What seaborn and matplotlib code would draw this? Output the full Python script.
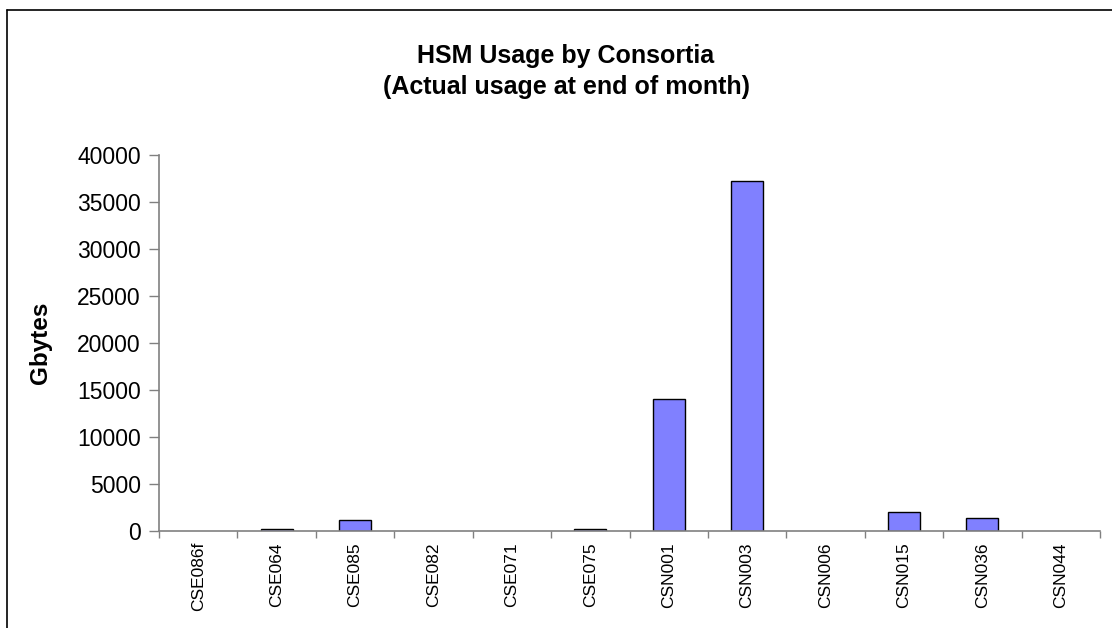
import pandas as pd
import matplotlib
matplotlib.use("Agg")
import matplotlib.pyplot as plt
from matplotlib.lines import Line2D
from matplotlib.ticker import FixedLocator, NullFormatter
import seaborn as sns

# data
consortia = ["CSE086f", "CSE064", "CSE085", "CSE082", "CSE071", "CSE075",
             "CSN001", "CSN003", "CSN006", "CSN015", "CSN036", "CSN044"]
gbytes = [0, 200, 1200, 0, 0, 200, 14000, 37200, 0, 2000, 1350, 0]
y_ticks = list(range(0, 40001, 5000))

sns.set_style("white")
plt.rcParams["font.family"] = ["Liberation Sans", "DejaVu Sans"]
plt.rcParams["text.color"] = "black"
plt.rcParams["axes.labelcolor"] = "black"
plt.rcParams["xtick.color"] = "black"
plt.rcParams["ytick.color"] = "black"

df = pd.DataFrame({"Consortia": consortia, "Gbytes": gbytes})

fig = plt.figure(figsize=(11.12, 6.28), dpi=100)
ax = fig.add_axes([159 / 1112, 1 - 531 / 628, 941 / 1112, 376 / 628])

sns.barplot(
    data=df,
    x="Consortia",
    y="Gbytes",
    color="#8080FF",
    saturation=1,
    edgecolor="black",
    linewidth=1.0,
    width=0.41,
    ax=ax
)

# empty categories draw no outline in the original
for bar in ax.patches:
    if bar.get_height() == 0:
        bar.set_linewidth(0)

ax.set_xlim(-0.5, len(consortia) - 0.5)
ax.set_ylim(0, 40000)
ax.set_yticks(y_ticks)
ax.set_yticklabels([str(v) for v in y_ticks], fontsize=16.5)

# Excel style: tick marks between categories, labels at the centres
ax.xaxis.set_major_locator(FixedLocator([i - 0.5 for i in range(len(consortia) + 1)]))
ax.xaxis.set_major_formatter(NullFormatter())
ax.xaxis.set_minor_locator(FixedLocator(list(range(len(consortia)))))
ax.set_xticklabels(consortia, minor=True, rotation=90, fontsize=12.5)
ax.tick_params(axis="x", which="major", bottom=True, direction="out",
               length=5, width=1, color="#808080")
ax.tick_params(axis="x", which="minor", bottom=True, length=0, pad=8)
ax.tick_params(axis="y", left=True, direction="out", length=7, width=1,
               color="#808080", pad=6)

for side in ["top", "right"]:
    ax.spines[side].set_visible(False)
for side in ["left", "bottom"]:
    ax.spines[side].set_color("#808080")
    ax.spines[side].set_linewidth(1.2)

ax.set_xlabel("")
ax.set_ylabel("Gbytes", fontsize=17.5, fontweight="bold")
ax.yaxis.set_label_coords(-0.114, 0.5)

# two line title
fig.text(566 / 1112, 1 - 63 / 628, "HSM Usage by Consortia",
         ha="center", va="baseline", fontsize=18, fontweight="bold")
fig.text(566 / 1112, 1 - 94 / 628, "(Actual usage at end of month)",
         ha="center", va="baseline", fontsize=18, fontweight="bold")

# chart frame (only top and left edges are inside the crop)
fig.add_artist(Line2D([7 / 1112, 1], [1 - 10 / 628, 1 - 10 / 628],
                      transform=fig.transFigure, color="black", linewidth=1.2))
fig.add_artist(Line2D([7 / 1112, 7 / 1112], [0, 1 - 10 / 628],
                      transform=fig.transFigure, color="black", linewidth=1.2))

fig.savefig("out.png", dpi=100)
